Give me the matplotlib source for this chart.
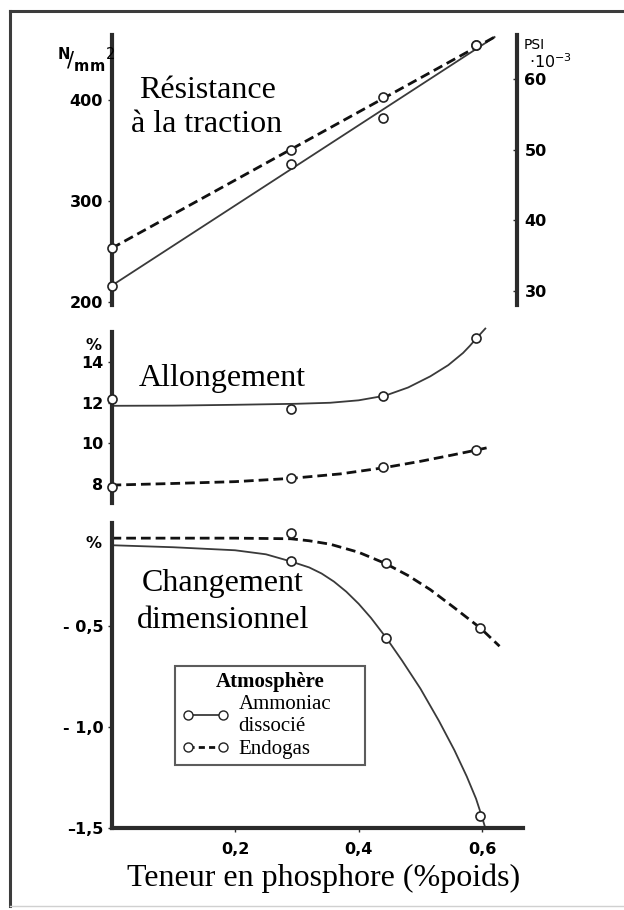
import matplotlib.pyplot as plt
from matplotlib.lines import Line2D

plt.rcParams['font.family'] = 'DejaVu Sans'

# teneur en phosphore des points de mesure (%poids)
x_pts = [0, 0.29, 0.44, 0.59]
x_pts_dc = [0.29, 0.445, 0.597]

# résistance à la traction (N/mm2)
rt_ammoniac = [216, 336, 382, 454]
rt_endogas = [253, 350, 403, 454]
rt_fit_x = [0, 0.62]
rt_fit_ammoniac = [216, 462]
rt_fit_endogas = [253, 462]

# allongement (%)
al_ammoniac = [12.2, 11.7, 12.35, 15.2]
al_endogas = [7.85, 8.3, 8.85, 9.7]
al_curve_x_amm = [0, 0.1, 0.2, 0.3, 0.354, 0.4, 0.443, 0.48, 0.516, 0.545,
                  0.569, 0.58, 0.59, 0.605]
al_curve_amm = [11.85, 11.86, 11.9, 11.95, 12.0, 12.12, 12.35, 12.75, 13.3,
                13.85, 14.45, 14.8, 15.15, 15.65]
al_curve_x_endo = [0, 0.1, 0.2, 0.29, 0.37, 0.44, 0.5, 0.55, 0.59, 0.61]
al_curve_endo = [7.95, 8.03, 8.12, 8.28, 8.5, 8.8, 9.12, 9.42, 9.67, 9.8]

# changement dimensionnel (%)
dc_ammoniac = [-0.18, -0.56, -1.44]
dc_endogas = [-0.04, -0.19, -0.51]
dc_curve_x_amm = [0, 0.1, 0.2, 0.25, 0.29, 0.32, 0.34, 0.36, 0.38, 0.40, 0.42,
                  0.445, 0.47, 0.5, 0.53, 0.555, 0.575, 0.59, 0.598, 0.604]
dc_curve_amm = [-0.1, -0.11, -0.125, -0.145, -0.18, -0.21, -0.24, -0.28, -0.33,
                -0.39, -0.46, -0.56, -0.67, -0.81, -0.97, -1.115, -1.245, -1.355,
                -1.43, -1.49]
dc_curve_x_endo = [0, 0.2, 0.29, 0.32, 0.354, 0.4, 0.443, 0.48, 0.516, 0.555,
                   0.597, 0.628]
dc_curve_endo = [-0.065, -0.065, -0.068, -0.078, -0.095, -0.135, -0.19,
                 -0.25, -0.32, -0.41, -0.51, -0.6]

W, H = 624, 910
fig = plt.figure(figsize=(W / 100, H / 100), dpi=100)


def box(x0, y0, x1, y1):
    return [x0 / W, 1 - y1 / H, (x1 - x0) / W, (y1 - y0) / H]


def fpos(x, y):
    return x / W, 1 - y / H


spine_col = '#2b2b2b'
solid = dict(color='#3a3a3a', lw=1.3, clip_on=False, solid_joinstyle='round')
dashed = dict(color='#111111', lw=2.0, dashes=(3.5, 1.8), clip_on=False)
marker = dict(ls='none', marker='o', ms=6.5, mfc='white', mec='#222222',
              mew=1.2, clip_on=False, zorder=4)
tick_font = dict(fontweight='bold', fontsize=11.5)
serif = 'Liberation Serif'

ax1 = fig.add_axes(box(111.5, 35, 523, 305))
ax2 = fig.add_axes(box(111.5, 332, 523, 503))
ax3 = fig.add_axes(box(111.5, 523, 523, 828))

for ax in (ax1, ax2, ax3):
    ax.set_xlim(0, 0.666)
    ax.patch.set_alpha(0)
    for s in ax.spines.values():
        s.set_visible(False)
    ax.spines['left'].set_visible(True)
    ax.spines['left'].set_linewidth(3)
    ax.spines['left'].set_color(spine_col)
    ax.tick_params(axis='y', length=3, width=1, pad=3, color=spine_col)
    ax.tick_params(axis='x', length=3, width=1, pad=7, color=spine_col)
    ax.set_xticks([])

# --- résistance à la traction ---
ax1.set_ylim(197, 464)
ax1.plot(rt_fit_x, rt_fit_ammoniac, **solid)
ax1.plot(rt_fit_x, rt_fit_endogas, **dashed)
ax1.plot(x_pts, rt_ammoniac, **marker)
ax1.plot(x_pts, rt_endogas, **marker)
ax1.set_yticks([200, 300, 400], ['200', '300', '400'], **tick_font)

ax1r = ax1.twinx()
ax1r.set_xlim(0, 0.666)
ax1r.set_ylim(28.0, 66.2)
for s in ax1r.spines.values():
    s.set_visible(False)
ax1r.spines['right'].set_visible(True)
ax1r.spines['right'].set_position(('data', 0.657))
ax1r.spines['right'].set_linewidth(3)
ax1r.spines['right'].set_color(spine_col)
ax1r.tick_params(axis='y', length=3, width=1, pad=5, color=spine_col, direction='in')
ax1r.set_yticks([30, 40, 50, 60], ['30', '40', '50', '60'], **tick_font)

# unités
fig.text(*fpos(86, 60), r'$^{\mathbf{N}}\!/_{\mathbf{mm}}{}^{2}$', fontsize=15,
         ha='center', va='center')
fig.text(*fpos(524, 45), 'PSI', fontsize=10, ha='left', va='center')
fig.text(*fpos(529, 62), r'$\mathregular{\cdot 10^{-3}}$', fontsize=11.5,
         ha='left', va='center')

fig.text(*fpos(207, 90), 'Résistance', family=serif, fontsize=23,
         ha='center', va='center')
fig.text(*fpos(207, 124), 'à la traction', family=serif, fontsize=23,
         ha='center', va='center')

# --- allongement ---
ax2.set_ylim(7.07, 15.48)
ax2.plot(al_curve_x_amm, al_curve_amm, **solid)
ax2.plot(al_curve_x_endo, al_curve_endo, **dashed)
ax2.plot(x_pts, al_ammoniac, **marker)
ax2.plot(x_pts, al_endogas, **marker)
ax2.set_yticks([8, 10, 12, 14], ['8', '10', '12', '14'], **tick_font)
fig.text(*fpos(94, 346), '%', ha='center', va='center', **tick_font)
fig.text(*fpos(222, 378), 'Allongement', family=serif, fontsize=23,
         ha='center', va='center')

# --- changement dimensionnel ---
ax3.set_ylim(-1.5, 0.01)
ax3.spines['bottom'].set_visible(True)
ax3.spines['bottom'].set_linewidth(3)
ax3.spines['bottom'].set_color(spine_col)
ax3.plot(dc_curve_x_amm, dc_curve_amm, **solid)
ax3.plot(dc_curve_x_endo, dc_curve_endo, **dashed)
ax3.plot(x_pts_dc, dc_ammoniac, **marker)
ax3.plot(x_pts_dc, dc_endogas, **marker)
ax3.set_yticks([-1.5, -1.0, -0.5], ['\u20131,5', '- 1,0', '- 0,5'], **tick_font)
ax3.set_xticks([0.2, 0.4, 0.6], ['0,2', '0,4', '0,6'], **tick_font)
fig.text(*fpos(94, 543), '%', ha='center', va='center', **tick_font)
fig.text(*fpos(223, 584), 'Changement', family=serif, fontsize=23,
         ha='center', va='center')
fig.text(*fpos(223, 621), 'dimensionnel', family=serif, fontsize=23,
         ha='center', va='center')

handles = [
    Line2D([], [], color='#3a3a3a', lw=1.3, marker='o', ms=6.5,
           mfc='white', mec='#222222'),
    Line2D([], [], color='#111111', lw=2.0, dashes=(2.2, 1.5), marker='o',
           ms=6.5, mfc='white', mec='#222222'),
]
lx0, ly0 = fpos(175, 762)
lx1, ly1 = fpos(365, 666)
leg = fig.legend(handles, ['Ammoniac\ndissocié', 'Endogas'], loc='upper left',
                 bbox_to_anchor=(lx0, ly0, lx1 - lx0, ly1 - ly0),
                 bbox_transform=fig.transFigure, mode='expand',
                 numpoints=2, handlelength=2.3, handletextpad=0.45,
                 labelspacing=0.15, borderpad=0.3, borderaxespad=0,
                 fancybox=False, title='Atmosphère',
                 prop=dict(family=serif, size=15),
                 title_fontproperties=dict(family=serif, size=15, weight='bold'))
leg.get_frame().set_edgecolor('#333333')
leg.get_frame().set_linewidth(1.5)

fig.text(*fpos(324, 878), 'Teneur en phosphore (%poids)', family=serif,
         fontsize=23, ha='center', va='center')

# cadre
fig.add_artist(Line2D([9.5 / W, 1], [1 - 10.5 / H] * 2, color='#3c3c3c', lw=2.2))
fig.add_artist(Line2D([9.5 / W] * 2, [1 - 10.5 / H, 1 - 906 / H], color='#3c3c3c', lw=2.2))
fig.add_artist(Line2D([9.5 / W, 1], [1 - 906 / H] * 2, color='#d0d0d0', lw=1))

fig.savefig('out.png', dpi=100)
